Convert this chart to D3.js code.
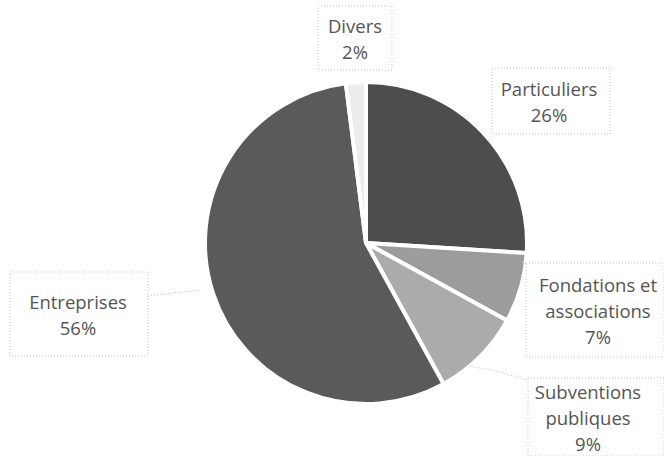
<!DOCTYPE html>
<html><head><meta charset="utf-8">
<script src="https://cdn.jsdelivr.net/npm/d3@7/dist/d3.min.js"></script>
<style>body{margin:0;background:#fff}svg{display:block}</style>
</head><body>
<script>
const categories = ["Particuliers", "Fondations et associations", "Subventions publiques", "Entreprises", "Divers"];
const values = [26, 7, 9, 56, 2];
const labelLines = [["Particuliers","26%"],["Fondations et","associations","7%"],["Subventions","publiques","9%"],["Entreprises","56%"],["Divers","2%"]];
const colors = ["#4d4d4d", "#9c9c9c", "#ababab", "#5a5a5a", "#ececec"];

const W = 664, H = 456;
const cx = 366, cy = 243, R = 161;
const svg = d3.select("body").append("svg").attr("width", W).attr("height", H);

const pie = d3.pie().sort(null).value(d => d)(values);
const arc = d3.arc().innerRadius(0).outerRadius(R);
const g = svg.append("g").attr("transform", `translate(${cx},${cy})`);
g.selectAll("path").data(pie).join("path")
  .attr("d", arc)
  .attr("fill", (d,i) => colors[i])
  .attr("stroke", "#fff").attr("stroke-width", 4).attr("stroke-linejoin","round");

const boxes = [
  {x:492, y:68, w:118, h:66, cx:549},
  {x:526, y:263, w:138, h:94, cx:598},
  {x:528, y:378, w:136, h:78, cx:588},
  {x:10, y:272, w:138, h:84, cx:78},
  {x:318, y:6, w:74, h:64, cx:355}
];
const lead = [
  null,
  [[522,262],[532,266]],
  [[470,366],[500,372],[528,380]],
  [[148,296],[200,290]],
  null
];
const lineGen = d3.line();
lead.forEach(p => { if (p) svg.append("path").attr("d", lineGen(p)).attr("fill","none")
  .attr("stroke","#bbb").attr("stroke-width",1).attr("stroke-dasharray","1,2"); });

boxes.forEach((b,i) => {
  svg.append("rect").attr("x",b.x).attr("y",b.y).attr("width",b.w).attr("height",b.h)
    .attr("fill","#fff").attr("stroke","#c4c4c4").attr("stroke-width",1).attr("stroke-dasharray","1,2");
  const lines = labelLines[i];
  const lh = 26;
  const startY = b.y + b.h/2 - (lines.length-1)*lh/2;
  lines.forEach((t,j) => {
    svg.append("text").attr("x", b.cx).attr("y", startY + j*lh)
      .attr("text-anchor","middle").attr("dominant-baseline","central")
      .attr("font-family","'Open Sans', sans-serif").attr("font-size",18.5)
      .attr("fill","#555").text(t);
  });
});
</script>
</body></html>
